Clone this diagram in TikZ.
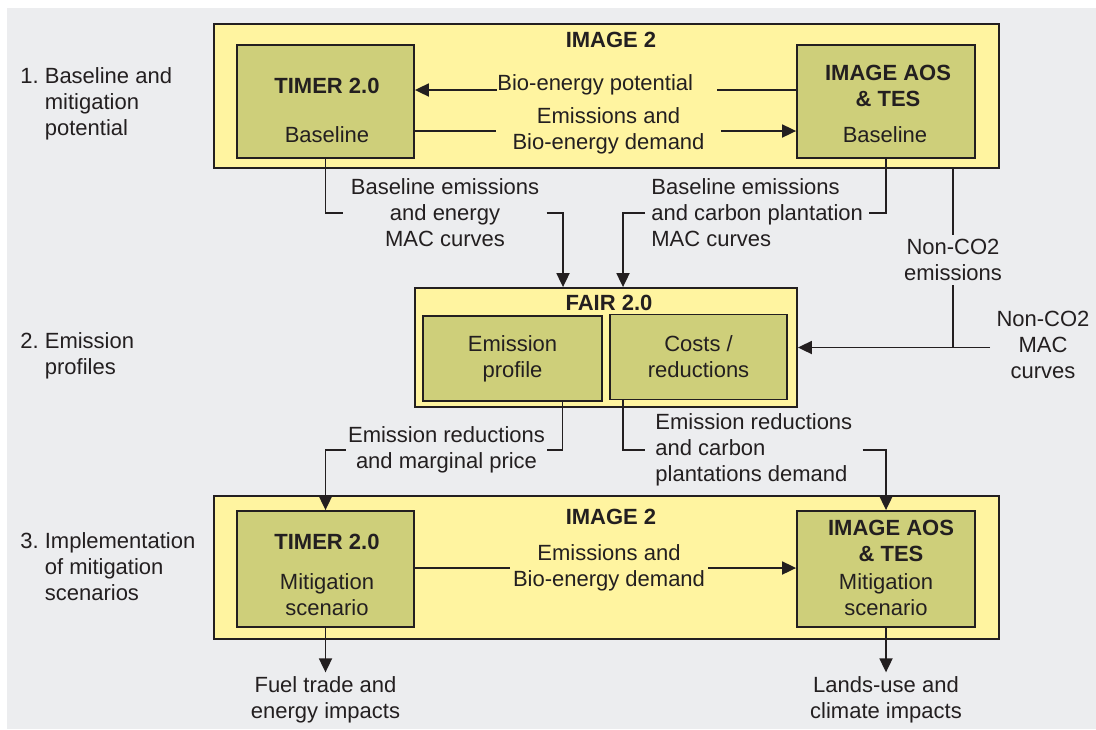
\documentclass[tikz,border=0pt]{standalone}
\usepackage{fontspec}
\setmainfont{Liberation Sans}
\usetikzlibrary{arrows.meta}
\definecolor{paper}{RGB}{236,237,239}
\definecolor{lemon}{RGB}{255,244,160}
\definecolor{moss}{RGB}{206,207,122}
\definecolor{ink}{RGB}{35,31,32}
\newcommand{\diagfont}{\fontsize{11}{13}\selectfont}
\tikzset{outer/.style={draw=ink,fill=lemon,line width=0.9pt,inner sep=0pt},
         inner/.style={draw=ink,fill=moss,line width=0.9pt,inner sep=0pt,align=center},
         heading/.style={font=\diagfont\bfseries,align=center},
         lab/.style={align=center,inner xsep=3pt,inner ysep=2pt},
         link/.style={draw=ink,line width=0.9pt},
         flow/.style={link,-{Triangle[length=7pt,width=6.5pt]}}}

\begin{document}
\begin{tikzpicture}[x=0.5pt,y=-0.5pt]
                  \tikzstyle{every node}=[font=\diagfont,text=ink]
                  \useasboundingbox (0,0) rectangle (1096,729);
                  \fill[paper] (7,8) rectangle (1096,729);
                  % stage labels
                  \node[anchor=west,inner sep=0pt] (stepone) at (20,104) {\begin{tabular}{@{}l@{\ }l@{}}1. & Baseline and\\ & mitigation\\ & potential\end{tabular}};
                  \node[anchor=west,inner sep=0pt] (steptwo) at (20,356) {\begin{tabular}{@{}l@{\ }l@{}}2. & Emission\\ & profiles\end{tabular}};
                  \node[anchor=west,inner sep=0pt] (stepthree) at (20,569) {\begin{tabular}{@{}l@{\ }l@{}}3. & Implementation\\ & of mitigation\\ & scenarios\end{tabular}};
                  % stage 1
                  \node[outer,minimum width=392.5pt,minimum height=72pt] (imgA) at (606.5,96) {};
                  \node[heading] (imgAtitle) at (611,40) {IMAGE 2};
                  \node[inner,minimum width=88.5pt,minimum height=56.5pt] (timerA) at (325.5,101.5) {};
                  \node[heading] (timerAtitle) at (327,86) {TIMER 2.0};
                  \node (timerAsub) at (327,135) {Baseline};
                  \node[inner,minimum width=89pt,minimum height=56.5pt] (aosA) at (886,101.5) {};
                  \node[heading] (aosAtitle) at (888,86) {IMAGE AOS\\\& TES};
                  \node (aosAsub) at (885,135) {Baseline};
                  \node[anchor=base west,inner sep=0pt] (potlab) at (497,90) {Bio-energy potential};
                  \node[lab,inner xsep=8pt] (demA) at (608.5,131) {Emissions and\\Bio-energy demand};
                  \draw[link] (aosA.west |- potlab.base) -- ([xshift=12pt]potlab.base east);
                  \draw[flow] (potlab.base west) -- (potlab.base west -| timerA.east);
                  \draw[link] (timerA.east |- demA.west) -- (demA.west);
                  \draw[flow] (demA.east) -- (demA.east -| aosA.west);
                  % stage 2
                  \node[outer,minimum width=191pt,minimum height=59.5pt] (fair) at (606,347.5) {};
                  \node[heading] (fairtitle) at (609,303) {FAIR 2.0};
                  \node[inner,minimum width=89.5pt,minimum height=42.5pt] (profile) at (512.5,358.5) {Emission\\profile};
                  \node[inner,minimum width=88.5pt,minimum height=42.5pt] (costs) at (698.5,357) {Costs /\\reductions};
                  \node[lab,inner xsep=3.5pt] (elab) at (445,213) {Baseline emissions\\and energy\\MAC curves};
                  \draw[link] (timerA.south) |- (elab.west);
                  \draw[flow] (elab.east) -| ([xshift=-21.5pt]fair.north);
                  \node[lab,align=left,anchor=west] (clab) at (645,213) {Baseline emissions\\and carbon plantation\\MAC curves};
                  \draw[link] (aosA.south) |- (clab.east);
                  \draw[flow] (clab.west) -| ([xshift=8.5pt]fair.north);
                  \node[lab] (ncoe) at (953,260) {Non-CO2\\emissions};
                  \draw[link] (imgA.south -| ncoe.north) -- (ncoe.north);
                  \draw[link] (ncoe.south) -- (ncoe.south |- fair.east);
                  \node[lab] (ncmac) at (1043,345) {Non-CO2\\MAC\\curves};
                  \draw[flow] (ncmac.west |- fair.east) -- (fair.east);
                  % stage 3
                  \node[outer,minimum width=392.5pt,minimum height=71.5pt] (imgB) at (606.5,567.5) {};
                  \node[heading] (imgBtitle) at (611,517) {IMAGE 2};
                  \node[inner,minimum width=88.5pt,minimum height=58pt] (timerB) at (325.5,569) {};
                  \node[heading] (timerBtitle) at (327,542) {TIMER 2.0};
                  \node[align=center] (timerBsub) at (327,595) {Mitigation\\scenario};
                  \node[inner,minimum width=89pt,minimum height=58pt] (aosB) at (886,569) {};
                  \node[heading] (aosBtitle) at (891,541) {IMAGE AOS\\\& TES};
                  \node[align=center] (aosBsub) at (886,595) {Mitigation\\scenario};
                  \node[lab,inner xsep=1pt] (mlab) at (446.5,450) {Emission reductions\\and marginal price};
                  \draw[link] ([xshift=25pt]profile.south) |- (mlab.east);
                  \draw[flow] (mlab.west) -| (timerB.north);
                  \node[lab,align=left,anchor=west,inner xsep=5pt] (plab) at (645,450) {Emission reductions\\and carbon\\plantations demand};
                  \draw[link] ([xshift=7pt]costs.south west) |- (plab.west);
                  \draw[flow] (plab.east) -| (aosB.north);
                  \node[lab,inner xsep=1.5pt] (demB) at (609,568) {Emissions and\\Bio-energy demand};
                  \draw[link] (timerB.east |- demB.west) -- (demB.west);
                  \draw[flow] (demB.east) -- (demB.east -| aosB.west);
                  \node[lab] (fuel) at (325.5,700) {Fuel trade and\\energy impacts};
                  \node[lab] (land) at (886,700) {Lands-use and\\climate impacts};
                  \draw[flow] (timerB.south) -- (fuel.north);
                  \draw[flow] (aosB.south) -- (land.north);
              \end{tikzpicture}
\end{document}
